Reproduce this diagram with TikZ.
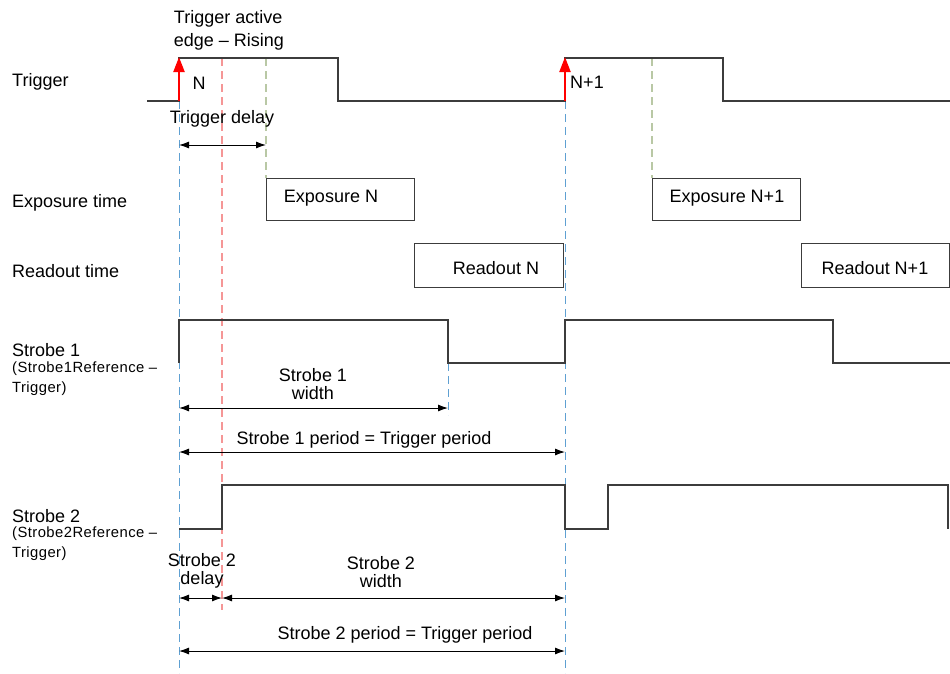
\documentclass[tikz,border=0pt]{standalone}
\usepackage{fontspec}
\setmainfont{Liberation Sans}
\usetikzlibrary{arrows.meta}
\definecolor{sigc}{RGB}{60,60,60}
\definecolor{blued}{RGB}{95,160,210}
\definecolor{redd}{RGB}{245,150,150}
\definecolor{greend}{RGB}{185,200,165}
\begin{document}
\begin{tikzpicture}[x=1pt,y=-1pt,
 sig/.style={draw=sigc, line width=1.4pt},
 lbl/.style={anchor=west, inner sep=0pt, font=\fontsize{18}{21}\selectfont},
 sub/.style={anchor=north west, inner sep=0pt, align=left, font=\fontsize{14.8}{20}\selectfont\addfontfeature{LetterSpace=3}},
 txt/.style={inner sep=0pt, align=center, font=\fontsize{18}{18.5}\selectfont},
 tbox/.style={draw=sigc, line width=1pt, rectangle, anchor=north west, inner sep=0pt, minimum width=148pt, minimum height=42pt},
 dim/.style={{Latex[length=10pt,width=7pt]}-{Latex[length=10pt,width=7pt]}, line width=1pt, black},
 dblue/.style={draw=blued, line width=1pt, dash pattern=on 8pt off 5pt},
 dred/.style={draw=redd, line width=1.2pt, dash pattern=on 8pt off 5pt},
 dgreen/.style={draw=greend, line width=1.2pt, dash pattern=on 8pt off 5pt},
 trig/.style={draw=red, line width=2.2pt, -{Triangle[length=15pt,width=11pt]}, shorten >=-1pt}
]
\useasboundingbox (0,0) rectangle (950,673);

% coordinates for dashed guides
\coordinate (b1t) at (179,101); \coordinate (b1b) at (179,673);
\coordinate (b2t) at (565,101); \coordinate (b2b) at (565,673);
\coordinate (r1t) at (222,58);  \coordinate (r1b) at (222,610);
\coordinate (g1t) at (266,58);  \coordinate (g1b) at (266,178);
\coordinate (g2t) at (652,58);  \coordinate (g2b) at (652,178);
\coordinate (b3t) at (448,363); \coordinate (b3b) at (448,415);
\draw[dblue] (b1t) -- (b1b);
\draw[dblue] (b2t) -- (b2b);
\draw[dblue] (b3t) -- (b3b);
\draw[dred] (r1t) -- (r1b);
\draw[dgreen] (g1t) -- (g1b);
\draw[dgreen] (g2t) -- (g2b);

% left labels
\node[lbl] (ltrig) at (12,82) {Trigger};
\node[lbl] (lexp) at (12,203) {Exposure time};
\node[lbl] (lread) at (12,271) {Readout time};
\node[lbl] (ls1) at (12,350) {Strobe 1};
\node[sub] (ls1s) at (12,362) {(Strobe1Reference –\\Trigger)};
\node[lbl] (ls2) at (12,516) {Strobe 2};
\node[sub] (ls2s) at (12,527) {(Strobe2Reference –\\Trigger)};

% trigger signal
\draw[sig] (147,101) -- (179,101) -- (179,58) -- (338,58) -- (338,101) -- (565,101) -- (565,58) -- (723,58) -- (723,101) -- (950,101);
\coordinate (a1s) at (179,101); \coordinate (a1e) at (179,58);
\coordinate (a2s) at (565,101); \coordinate (a2e) at (565,58);
\draw[trig] (a1s) -- (a1e);
\draw[trig] (a2s) -- (a2e);
\node[txt, align=left, font=\fontsize{18}{23}\selectfont] (tae) at (229,30) {Trigger active\\edge – Rising};
\node[txt] (nN) at (199,83) {N};
\node[txt] (nN1) at (587,82) {N+1};

% trigger delay
\node[txt] (tdl) at (222,119) {Trigger delay};
\coordinate (td1) at (179,145); \coordinate (td2) at (266,145);
\draw[dim] (td1) -- (td2);

% exposure and readout boxes
\node[tbox] (expN) at (266,178) {};
\node[txt] (expNt) at (331,198) {Exposure N};
\node[tbox] (expN1) at (652,178) {};
\node[txt] (expN1t) at (727,198) {Exposure N+1};
\node[tbox, minimum width=149pt, minimum height=44pt] (rdN) at (414,243) {};
\node[txt] (rdNt) at (496,268) {Readout N};
\node[tbox, minimum width=148pt, minimum height=44pt] (rdN1) at (801,243) {};
\node[txt] (rdN1t) at (875,268) {Readout N+1};

% strobe 1
\draw[sig] (179,363) -- (179,320) -- (448,320) -- (448,363) -- (565,363) -- (565,320) -- (833,320) -- (833,363) -- (950,363);
\node[txt] (s1w) at (313,384) {Strobe 1\\width};
\coordinate (s1wa) at (179,408); \coordinate (s1wb) at (448,408);
\draw[dim] (s1wa) -- (s1wb);
\node[txt] (s1p) at (364,440) {Strobe 1 period = Trigger period};
\coordinate (s1pa) at (179,452); \coordinate (s1pb) at (565,452);
\draw[dim] (s1pa) -- (s1pb);

% strobe 2
\draw[sig] (179,529) -- (222,529) -- (222,485) -- (565,485) -- (565,529) -- (608,529) -- (608,485) -- (948,485) -- (948,529);
\node[txt, font=\fontsize{18}{17.5}\selectfont] (s2d) at (202,571) {Strobe 2\\delay};
\node[txt] (s2w) at (381,572) {Strobe 2\\width};
\coordinate (s2a) at (179,598); \coordinate (s2b) at (222,598); \coordinate (s2c) at (565,598);
\draw[dim] (s2a) -- (s2b);
\draw[dim] (s2b) -- (s2c);
\node[txt] (s2p) at (405,635) {Strobe 2 period = Trigger period};
\coordinate (s2pa) at (179,651); \coordinate (s2pb) at (565,651);
\draw[dim] (s2pa) -- (s2pb);
\end{tikzpicture}
\end{document}
